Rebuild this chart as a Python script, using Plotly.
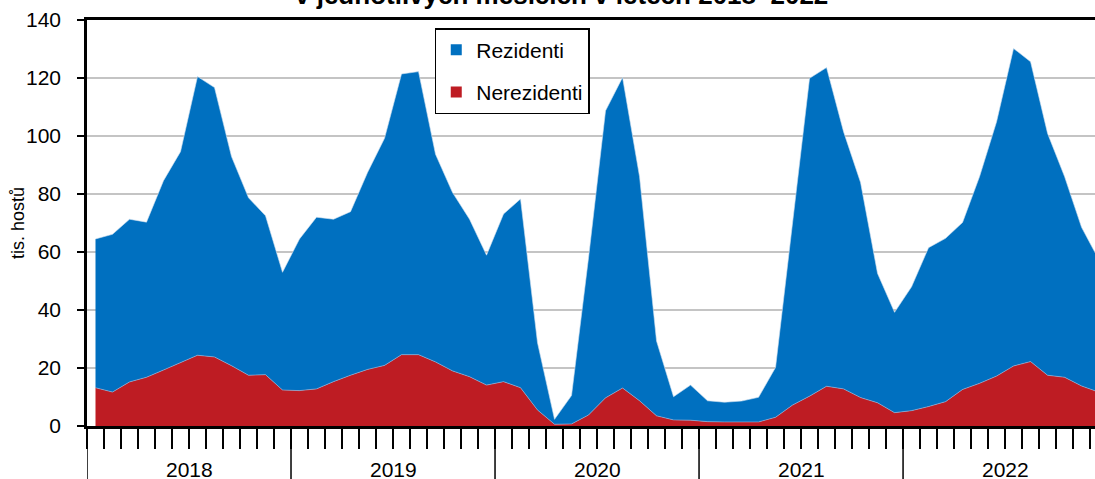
import plotly.graph_objects as go

years = ["2018", "2019", "2020", "2021", "2022"]

nerezidenti = [
    13.2, 11.7, 15.2, 16.8, 19.3, 21.8, 24.4, 23.8, 20.8, 17.5, 17.7, 12.4,
    12.2, 12.8, 15.3, 17.5, 19.5, 20.9, 24.6, 24.6, 22.1, 19.0, 17.0, 14.1,
    15.3, 13.2, 5.5, 0.6, 0.7, 3.8, 9.7, 13.1, 8.7, 3.5, 2.1, 2.0,
    1.5, 1.4, 1.4, 1.4, 3.0, 7.2, 10.3, 13.7, 12.8, 9.8, 8.0, 4.6,
    5.3, 6.7, 8.4, 12.6, 14.7, 17.2, 20.7, 22.2, 17.5, 16.8, 13.8, 11.7,
]
rezidenti = [
    51.3, 54.4, 56.1, 53.5, 65.3, 72.8, 96.1, 92.9, 72.1, 61.2, 54.8, 40.6,
    52.3, 59.2, 56.0, 56.4, 67.9, 78.3, 96.8, 97.6, 71.6, 61.5, 54.3, 44.8,
    57.8, 65.1, 23.2, 1.7, 9.8, 54.2, 99.0, 107.1, 77.3, 25.8, 8.0, 12.1,
    7.2, 6.8, 7.2, 8.5, 17.2, 62.3, 109.6, 109.9, 88.7, 74.2, 44.6, 34.6,
    42.7, 54.8, 56.3, 57.6, 71.3, 87.7, 109.5, 103.4, 83.4, 69.2, 54.7, 45.8,
]

title_text = "v jednotlivých měsících v letech 2018–2022"
y_title = "tis. hostů"

BLUE = "#0070C0"
RED = "#BE1C23"
FONT = "Liberation Sans, Arial, sans-serif"

n = len(rezidenti)
x = list(range(n))

fig = go.Figure()
fig.add_trace(go.Scatter(x=x, y=nerezidenti, stackgroup="s", mode="lines",
                         line=dict(width=0.6, color="#9FB6D6"), fillcolor=RED,
                         showlegend=False, name="Nerezidenti"))
fig.add_trace(go.Scatter(x=x, y=rezidenti, stackgroup="s", mode="lines",
                         line=dict(width=0.6, color="#D0E0F0"), fillcolor=BLUE,
                         showlegend=False, name="Rezidenti"))
# legend entries
fig.add_trace(go.Scatter(x=[None], y=[None], mode="markers", name="Rezidenti",
                         legendgroup="a",
                         marker=dict(symbol="square", size=11, color=BLUE)))
fig.add_trace(go.Scatter(x=[None], y=[None], mode="markers", name="Nerezidenti",
                         legendgroup="b",
                         marker=dict(symbol="square", size=11, color=RED)))

shapes = []
annotations = []
for k, yr in enumerate(years):
    b = 12 * k - 0.5
    shapes.append(dict(type="line", xref="x", yref="paper", x0=b, x1=b,
                       y0=0, y1=-0.2, line=dict(color="black", width=1.5)))
    annotations.append(dict(x=12 * k + 5.5, xref="x", y=-0.106, yref="paper",
                            text=yr, showarrow=False,
                            font=dict(size=21, color="black", family=FONT),
                            yanchor="middle"))

annotations.append(dict(x=0.471, xref="paper", y=1.061, yref="paper",
                        text="<b>" + title_text + "</b>", showarrow=False,
                        font=dict(size=26, color="black", family=FONT),
                        yanchor="middle"))
annotations.append(dict(x=-0.0685, xref="paper", y=0.5, yref="paper",
                        text=y_title, textangle=-90, showarrow=False,
                        font=dict(size=18, color="black", family=FONT),
                        xanchor="center", yanchor="middle"))

fig.update_layout(
    width=1095, height=479,
    margin=dict(l=87, r=0, t=20, b=53),
    paper_bgcolor="white", plot_bgcolor="white",
    font=dict(family=FONT, size=21, color="black"),
    shapes=shapes, annotations=annotations,
    showlegend=True,
    legend=dict(x=0.345, y=0.98, xanchor="left", yanchor="top",
                bordercolor="black", borderwidth=1.5, bgcolor="white",
                font=dict(size=21, family=FONT), tracegroupgap=12,
                traceorder="grouped"),
    xaxis=dict(range=[-0.5, 58.79], showgrid=False, zeroline=False,
               showline=True, linecolor="black", linewidth=2.5, mirror=True,
               tickmode="array", tickvals=[i - 0.5 for i in range(n + 1)],
               ticks="outside", ticklen=20, tickwidth=1.5, tickcolor="black",
               showticklabels=False),
    yaxis=dict(range=[0, 140], dtick=20, showgrid=True, gridcolor="#C4C4C4",
               gridwidth=1.5, zeroline=False, showline=True, linecolor="black",
               linewidth=2.5, ticks="outside", ticklen=7, tickwidth=2,
               tickcolor="black", ticklabelstandoff=12,
               tickfont=dict(size=21, family=FONT)),
)

fig.write_html("out.html", config={"displayModeBar": False},
               post_script="document.body.style.margin='0';")
